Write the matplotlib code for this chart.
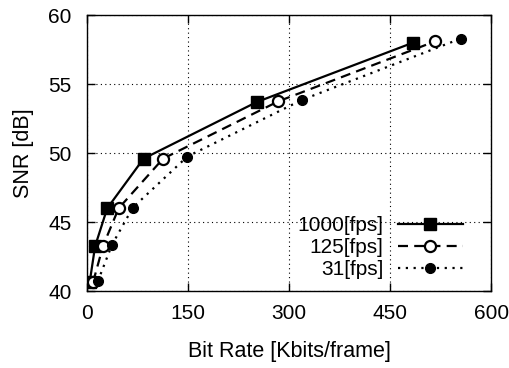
import numpy as np
import matplotlib
matplotlib.use('Agg')
import matplotlib.pyplot as plt

plt.rcParams['font.family'] = ['Liberation Sans', 'DejaVu Sans']

# bit rate [Kbits/frame] and SNR [dB] for each frame rate
rate_1000 = [4, 12, 30, 84, 252, 484]
snr_1000  = [40.65, 43.25, 46.0, 49.6, 53.7, 58.0]
rate_125  = [9, 24, 47, 113, 284, 517]
snr_125   = [40.65, 43.3, 46.0, 49.6, 53.75, 58.1]
rate_31   = [16, 37, 68, 149, 319, 555]
snr_31    = [40.7, 43.35, 46.05, 49.75, 53.85, 58.3]

x_ticks = [0, 150, 300, 450, 600]
y_ticks = [40, 45, 50, 55, 60]

fig = plt.figure(figsize=(5.1, 3.68), dpi=100)
ax = fig.add_axes([0.1706, 0.209, 0.7924, 0.75])

ax.plot(rate_1000, snr_1000, color='black', lw=1.6, ls='-', marker='s', ms=8,
        label='1000[fps]')
ax.plot(rate_125, snr_125, color='black', lw=1.6, ls=(0, (4.5, 2.8)), marker='o', ms=8,
        mfc='white', mew=1.6, label='125[fps]')
ax.plot(rate_31, snr_31, color='black', lw=1.6, ls=(0, (1, 2.5)), marker='o', ms=7,
        label='31[fps]')

ax.set_xlim(0, 600)
ax.set_ylim(40, 60)
ax.set_xticks(x_ticks)
ax.set_yticks(y_ticks)
ax.tick_params(direction='in', length=6, width=1, top=True, right=True, labelsize=15)
ax.tick_params(axis='x', pad=9)
ax.tick_params(axis='y', pad=11)
ax.grid(True, color='black', ls=(0, (1, 3)), lw=0.8)
for s in ax.spines.values():
    s.set_linewidth(1)

ax.set_xlabel('Bit Rate [Kbits/frame]', fontsize=15.5, labelpad=13)
ax.set_ylabel('SNR [dB]', fontsize=15.5, labelpad=10)

leg = ax.legend(loc='lower right', bbox_to_anchor=(0.95, 0.012), frameon=False,
                markerfirst=False, fontsize=15, handlelength=3.1, handletextpad=0.7,
                labelspacing=0.15, borderaxespad=0)
for t in leg.get_texts():
    t.set_ha('right')

fig.savefig('out.png', dpi=100)
